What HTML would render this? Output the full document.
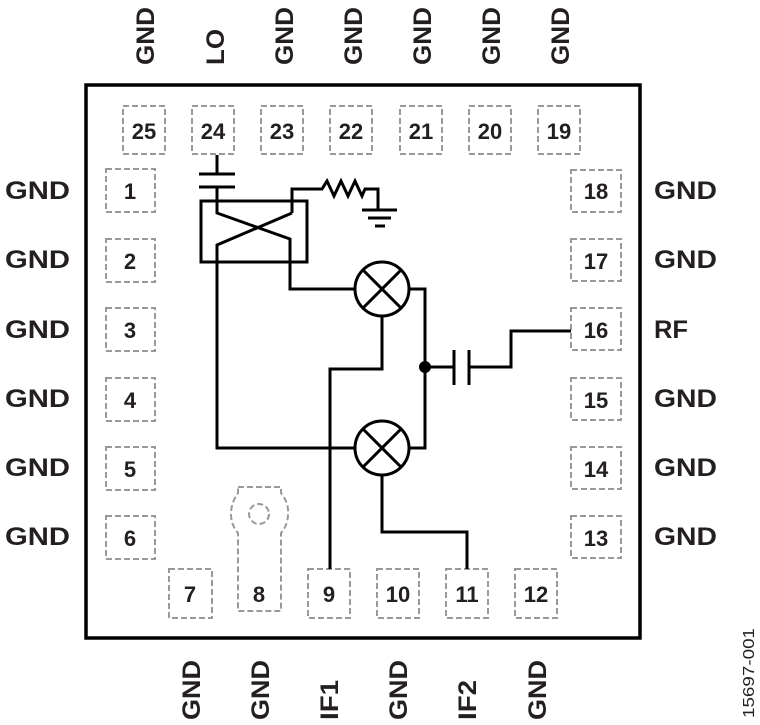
<!DOCTYPE html>
<html><head><meta charset="utf-8"><style>
html,body{margin:0;padding:0;background:#fff;}
svg{display:block;}
text{font-family:"Liberation Sans",Arial,sans-serif;font-weight:bold;fill:#231f20;}
</style></head><body>
<svg width="760" height="725" viewBox="0 0 760 725" xmlns="http://www.w3.org/2000/svg">
<rect x="86" y="85" width="554" height="553" fill="none" stroke="#000" stroke-width="3.5"/>
<g fill="none" stroke="#999" stroke-width="2" stroke-dasharray="6,3">
<rect x="123" y="106" width="42" height="48"/>
<rect x="192" y="106" width="42" height="48"/>
<rect x="261" y="106" width="42" height="48"/>
<rect x="330" y="106" width="42" height="48"/>
<rect x="400" y="106" width="42" height="48"/>
<rect x="469" y="106" width="42" height="48"/>
<rect x="538" y="106" width="42" height="48"/>
<rect x="106" y="169" width="49" height="43"/>
<rect x="106" y="239" width="49" height="43"/>
<rect x="106" y="308" width="49" height="43"/>
<rect x="106" y="378" width="49" height="43"/>
<rect x="106" y="447" width="49" height="43"/>
<rect x="106" y="516" width="49" height="43"/>
<rect x="571" y="170" width="50" height="42"/>
<rect x="571" y="239" width="50" height="42"/>
<rect x="571" y="308" width="50" height="42"/>
<rect x="571" y="378" width="50" height="42"/>
<rect x="571" y="447" width="50" height="42"/>
<rect x="571" y="516" width="50" height="42"/>
<rect x="169" y="569" width="43" height="49"/>
<rect x="308" y="569" width="42" height="49"/>
<rect x="377" y="569" width="42" height="49"/>
<rect x="446" y="569" width="42" height="49"/>
<rect x="515" y="569" width="42" height="49"/>
<path d="M238,487 L281,487 L281,493 Q289,503 288,514 Q288,525 281,533 L281,611 L238,611 L238,533 Q231,525 231,514 Q231,503 238,493 Z"/>
<circle cx="259" cy="514" r="10"/>
</g>
<g font-size="22" text-anchor="middle">
<text x="144" y="139">25</text><text x="213" y="139">24</text><text x="282" y="139">23</text><text x="351" y="139">22</text><text x="421" y="139">21</text><text x="490" y="139">20</text><text x="559" y="139">19</text>
<text x="130" y="199">1</text><text x="130" y="269">2</text><text x="130" y="338">3</text><text x="130" y="408">4</text><text x="130" y="477">5</text><text x="130" y="546">6</text>
<text x="596" y="199">18</text><text x="596" y="269">17</text><text x="596" y="338">16</text><text x="596" y="408">15</text><text x="596" y="477">14</text><text x="596" y="546">13</text>
<text x="190" y="602">7</text><text x="259" y="602">8</text><text x="329" y="602">9</text><text x="398" y="602">10</text><text x="467" y="602">11</text><text x="536" y="602">12</text>
</g>
<g font-size="25">
<text x="5" y="199" textLength="65" lengthAdjust="spacingAndGlyphs">GND</text><text x="5" y="268" textLength="65" lengthAdjust="spacingAndGlyphs">GND</text><text x="5" y="338" textLength="65" lengthAdjust="spacingAndGlyphs">GND</text><text x="5" y="407" textLength="65" lengthAdjust="spacingAndGlyphs">GND</text><text x="5" y="476" textLength="65" lengthAdjust="spacingAndGlyphs">GND</text><text x="5" y="545" textLength="65" lengthAdjust="spacingAndGlyphs">GND</text>
<text x="654" y="199" textLength="63" lengthAdjust="spacingAndGlyphs">GND</text><text x="654" y="268" textLength="63" lengthAdjust="spacingAndGlyphs">GND</text><text x="654" y="338" textLength="34" lengthAdjust="spacingAndGlyphs">RF</text><text x="654" y="407" textLength="63" lengthAdjust="spacingAndGlyphs">GND</text><text x="654" y="476" textLength="63" lengthAdjust="spacingAndGlyphs">GND</text><text x="654" y="545" textLength="63" lengthAdjust="spacingAndGlyphs">GND</text>
<text transform="translate(154,65) rotate(-90)" textLength="58" lengthAdjust="spacingAndGlyphs">GND</text>
<text transform="translate(224,65) rotate(-90)" textLength="36" lengthAdjust="spacingAndGlyphs">LO</text>
<text transform="translate(293,65) rotate(-90)" textLength="58" lengthAdjust="spacingAndGlyphs">GND</text>
<text transform="translate(362,65) rotate(-90)" textLength="58" lengthAdjust="spacingAndGlyphs">GND</text>
<text transform="translate(431,65) rotate(-90)" textLength="58" lengthAdjust="spacingAndGlyphs">GND</text>
<text transform="translate(500,65) rotate(-90)" textLength="58" lengthAdjust="spacingAndGlyphs">GND</text>
<text transform="translate(569,65) rotate(-90)" textLength="58" lengthAdjust="spacingAndGlyphs">GND</text>
<text transform="translate(200,720) rotate(-90)" textLength="60" lengthAdjust="spacingAndGlyphs">GND</text>
<text transform="translate(269,720) rotate(-90)" textLength="60" lengthAdjust="spacingAndGlyphs">GND</text>
<text transform="translate(338,720) rotate(-90)" textLength="40" lengthAdjust="spacingAndGlyphs">IF1</text>
<text transform="translate(407,720) rotate(-90)" textLength="60" lengthAdjust="spacingAndGlyphs">GND</text>
<text transform="translate(476,720) rotate(-90)" textLength="40" lengthAdjust="spacingAndGlyphs">IF2</text>
<text transform="translate(546,720) rotate(-90)" textLength="60" lengthAdjust="spacingAndGlyphs">GND</text>
</g>
<text transform="translate(754,718) rotate(-90)" font-size="16" style="font-weight:normal" textLength="90" lengthAdjust="spacingAndGlyphs">15697-001</text>
<g fill="none" stroke="#000" stroke-width="3">
<path d="M217,155 V174 M199,174 H235 M199,187 H235 M217,187 V213 L290,239 V289 H355"/>
<rect x="201" y="201" width="106" height="61"/>
<path d="M292,213 L217,245 V448 H355"/>
<path d="M292,213 V189 H322 L327,181 L334,196 L341,181 L348,196 L355,181 L362,196 L365,189 H378 V210 M362,210 H397 M368,218 H391 M375,226 H385"/>
<circle cx="382" cy="289" r="27"/>
<circle cx="382" cy="448" r="27"/>
<path d="M363,270 L401,308 M401,270 L363,308 M363,429 L401,467 M401,429 L363,467"/>
<path d="M409,289 H425 V448 H409 M425,367 H454 M454,350 V385 M469,350 V385 M469,367 H511 V331 H571"/>
<path d="M382,316 V369 H330 V569 M382,475 V532 H467 V569"/>
</g>
<circle cx="425" cy="367" r="6" fill="#000"/>
</svg>
</body></html>
